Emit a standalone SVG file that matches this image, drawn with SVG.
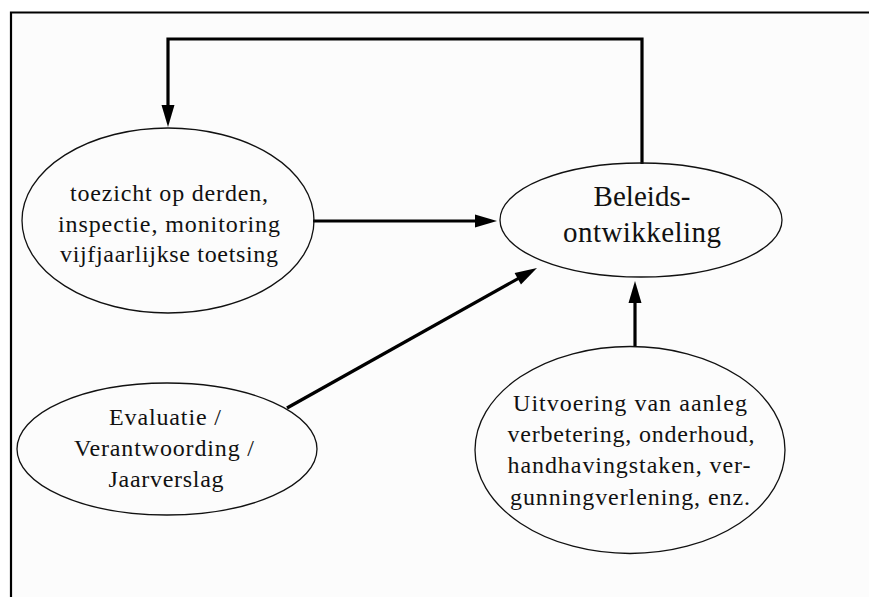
<svg xmlns="http://www.w3.org/2000/svg" width="869" height="597" viewBox="0 0 869 597">
  <defs>
    <style>
      .node ellipse { fill: none; stroke: #111; stroke-width: 1.3; }
      .node text { font-family: "Liberation Serif", "Times New Roman", "DejaVu Serif", serif; font-size: 24px; fill: #111; text-anchor: middle; }
      .node text.big { font-size: 29px; }
      .conn { fill: none; stroke: #000; stroke-width: 3.2; stroke-linejoin: miter; }
    </style>
    <marker id="ah" markerUnits="userSpaceOnUse" markerWidth="26" markerHeight="16" viewBox="-24 -8 26 16" refX="-12" refY="0" orient="auto">
      <path d="M0,0 L-22,-6.5 L-22,6.5 Z" fill="#000"/>
    </marker>
  </defs>

  <rect x="0" y="0" width="869" height="597" fill="#ffffff"/>
  <rect x="11" y="13" width="858" height="584" fill="#fcfcfc"/>
  <g id="frame" fill="none" stroke="#000" stroke-width="2.2">
    <path d="M11,597 L11,12.5 L869,12.5"/>
  </g>

  <g id="connectors">
    <path class="conn" d="M642,164 L642,39 L168,39 L168,115" marker-end="url(#ah)"/>
    <path class="conn" d="M313,221 L485,221" marker-end="url(#ah)"/>
    <path class="conn" d="M287,408 L526.5,273.9" marker-end="url(#ah)"/>
    <path class="conn" d="M635,347 L635,293" marker-end="url(#ah)"/>
  </g>

  <g id="node-toezicht" class="node">
    <ellipse cx="168" cy="220.5" rx="146" ry="92.5"/>
    <text x="169" y="201" textLength="198" lengthAdjust="spacing">toezicht op derden,</text>
    <text x="169" y="232" textLength="222" lengthAdjust="spacing">inspectie, monitoring</text>
    <text x="169" y="262" textLength="218" lengthAdjust="spacing">vijfjaarlijkse toetsing</text>
  </g>

  <g id="node-beleid" class="node">
    <ellipse cx="641" cy="220" rx="141" ry="57"/>
    <text class="big" x="642" y="206" textLength="97" lengthAdjust="spacing">Beleids-</text>
    <text class="big" x="642" y="242" textLength="158" lengthAdjust="spacing">ontwikkeling</text>
  </g>

  <g id="node-evaluatie" class="node">
    <ellipse cx="167" cy="449" rx="150" ry="66"/>
    <text x="165" y="425" textLength="112" lengthAdjust="spacing">Evaluatie /</text>
    <text x="164" y="456" textLength="180" lengthAdjust="spacing">Verantwoording /</text>
    <text x="166" y="487" textLength="115" lengthAdjust="spacing">Jaarverslag</text>
  </g>

  <g id="node-uitvoering" class="node">
    <ellipse cx="630" cy="450" rx="155" ry="103.5"/>
    <text x="630" y="411" textLength="234" lengthAdjust="spacing">Uitvoering van aanleg</text>
    <text x="631" y="442" textLength="247" lengthAdjust="spacing">verbetering, onderhoud,</text>
    <text x="629" y="473" textLength="243" lengthAdjust="spacing">handhavingstaken, ver-</text>
    <text x="630" y="505" textLength="240" lengthAdjust="spacing">gunningverlening, enz.</text>
  </g>
</svg>
